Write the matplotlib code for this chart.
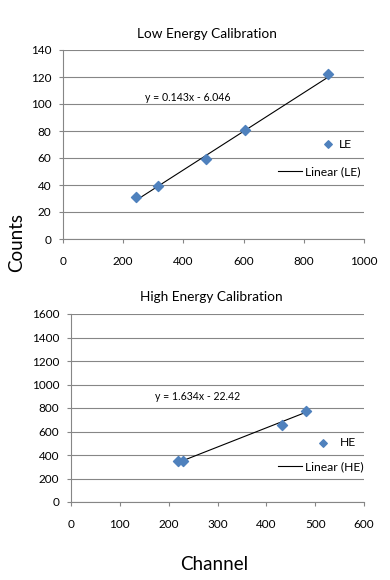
import matplotlib
matplotlib.use('Agg')
import matplotlib.pyplot as plt
import numpy as np

plt.rcParams['font.family'] = ['Lato', 'DejaVu Sans']

# データ（低エネルギー）
le_channel = [243, 316, 474, 605, 882]
le_counts = [31, 39.5, 59.5, 81, 122]
le_fit = [0.143, -6.046]

# データ（高エネルギー）
he_channel = [220, 230, 432, 482]
he_counts = [345, 350, 657, 775]
he_fit = [1.634, -22.42]

W, H = 390.0, 580.0
blue = '#4F81BD'
grid_c = '#868686'


def draw_panel(rect, x, y, fit, name, xlim, xstep, ylim, ystep, title, title_xy,
               eq_xy, mk_leg, mk_pad, ln_leg):
    l, t, r, b = rect
    ax = fig.add_axes([l / W, 1 - b / H, (r - l) / W, (b - t) / H])
    ax.scatter(x, y, marker='D', s=26, color=blue, zorder=3, label=name)
    xs = np.array([min(x), max(x)])
    ax.plot(xs, fit[0] * xs + fit[1], color='black', lw=0.8, zorder=2,
            label='Linear (%s)' % name)
    ax.set_xlim(*xlim)
    ax.set_ylim(*ylim)
    ax.set_xticks(np.arange(xlim[0], xlim[1] + 1, xstep))
    ax.set_yticks(np.arange(ylim[0], ylim[1] + 1, ystep))
    ax.grid(axis='y', color=grid_c, lw=0.8)
    ax.set_axisbelow(True)
    for s in ['top', 'right']:
        ax.spines[s].set_visible(False)
    for s in ['left', 'bottom']:
        ax.spines[s].set_color(grid_c)
        ax.spines[s].set_linewidth(0.8)
    ax.tick_params(length=3, width=0.8, color=grid_c, labelsize=8.5)
    ax.tick_params(axis='x', pad=9)
    ax.tick_params(axis='y', pad=5.5)
    fig.text(title_xy[0] / W, 1 - title_xy[1] / H, title, ha='center',
             va='center', fontsize=9.8)
    sign = '-' if fit[1] < 0 else '+'
    fig.text(eq_xy[0] / W, 1 - eq_xy[1] / H,
             'y = %gx %s %g' % (fit[0], sign, abs(fit[1])),
             ha='left', va='center', fontsize=7.6)
    h, lab = ax.get_legend_handles_labels()
    leg1 = ax.legend([h[0]], [lab[0]], loc='center left', frameon=False,
                     bbox_to_anchor=(mk_leg[0] / W, 1 - mk_leg[1] / H),
                     bbox_transform=fig.transFigure, borderpad=0,
                     borderaxespad=0, handlelength=1.0, handletextpad=mk_pad,
                     fontsize=8.7, scatterpoints=1, markerscale=0.75)
    ax.add_artist(leg1)
    ax.legend([h[1]], [lab[1]], loc='center left', frameon=False,
              bbox_to_anchor=(ln_leg[0] / W, 1 - ln_leg[1] / H),
              bbox_transform=fig.transFigure, borderpad=0,
              borderaxespad=0, handlelength=2.0, handletextpad=0.2,
              fontsize=8.7)
    return ax


fig = plt.figure(figsize=(3.9, 5.8), dpi=100)

draw_panel((63, 50, 364, 239), le_channel, le_counts, le_fit, 'LE',
           (0, 1000), 200, (0, 140), 20, 'Low Energy Calibration', (207, 34),
           (145, 97), (322, 144), 0.4, (278, 172))
draw_panel((71, 314, 364, 502), he_channel, he_counts, he_fit, 'HE',
           (0, 600), 100, (0, 1600), 200, 'High Energy Calibration', (211, 297),
           (155, 397), (317, 443), 0.9, (278, 467))

fig.text(17 / W, 1 - 242 / H, 'Counts', rotation=90, ha='center', va='center',
         fontsize=13.5)
fig.text(214 / W, 1 - 565 / H, 'Channel', ha='center', va='center',
         fontsize=13.5)

fig.savefig('out.png', dpi=100)
